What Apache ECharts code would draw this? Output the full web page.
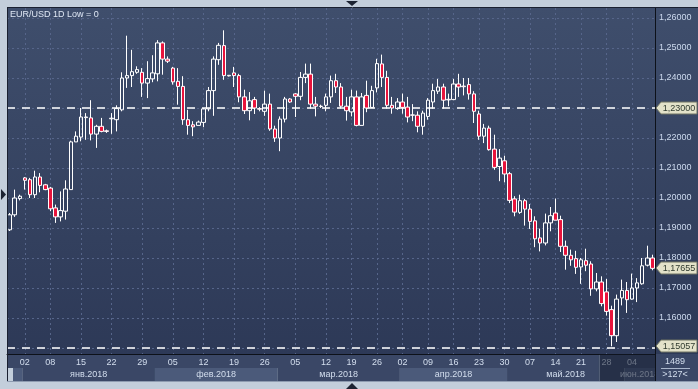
<!DOCTYPE html>
<html><head><meta charset="utf-8">
<script src="https://cdn.jsdelivr.net/npm/echarts@6/dist/echarts.min.js"></script>
<style>html,body{margin:0;padding:0;background:#c3cedb;overflow:hidden}#c{width:698px;height:389px}</style>
</head><body><div id="c"></div>
<script>
const dates = ['2017-12-28','2017-12-29','2017-12-31','2018-01-02','2018-01-03','2018-01-04','2018-01-05','2018-01-07','2018-01-08','2018-01-09','2018-01-10','2018-01-11','2018-01-12','2018-01-14','2018-01-15','2018-01-16','2018-01-17','2018-01-18','2018-01-19','2018-01-21','2018-01-22','2018-01-23','2018-01-24','2018-01-25','2018-01-26','2018-01-28','2018-01-29','2018-01-30','2018-01-31','2018-02-01','2018-02-02','2018-02-04','2018-02-05','2018-02-06','2018-02-07','2018-02-08','2018-02-09','2018-02-11','2018-02-12','2018-02-13','2018-02-14','2018-02-15','2018-02-16','2018-02-18','2018-02-19','2018-02-20','2018-02-21','2018-02-22','2018-02-23','2018-02-25','2018-02-26','2018-02-27','2018-02-28','2018-03-01','2018-03-02','2018-03-04','2018-03-05','2018-03-06','2018-03-07','2018-03-08','2018-03-09','2018-03-11','2018-03-12','2018-03-13','2018-03-14','2018-03-15','2018-03-16','2018-03-19','2018-03-20','2018-03-21','2018-03-22','2018-03-23','2018-03-26','2018-03-27','2018-03-28','2018-03-29','2018-03-30','2018-04-02','2018-04-03','2018-04-04','2018-04-05','2018-04-06','2018-04-09','2018-04-10','2018-04-11','2018-04-12','2018-04-13','2018-04-16','2018-04-17','2018-04-18','2018-04-19','2018-04-20','2018-04-23','2018-04-24','2018-04-25','2018-04-26','2018-04-27','2018-04-30','2018-05-01','2018-05-02','2018-05-03','2018-05-04','2018-05-07','2018-05-08','2018-05-09','2018-05-10','2018-05-11','2018-05-14','2018-05-15','2018-05-16','2018-05-17','2018-05-18','2018-05-21','2018-05-22','2018-05-23','2018-05-24','2018-05-25','2018-05-28','2018-05-29','2018-05-30','2018-05-31','2018-06-01','2018-06-04','2018-06-05','2018-06-06','2018-06-07','2018-06-08'];
const opens = [1.1894,1.1944,1.1998,1.2067,1.2061,1.2011,1.2070,1.2044,1.2033,1.1967,1.1937,1.1956,1.2028,1.2187,1.2203,1.2268,1.2267,1.2213,1.2239,1.2224,1.2264,1.2261,1.2294,1.2400,1.2408,1.2419,1.2419,1.2383,1.2397,1.2414,1.2517,1.2463,1.2433,1.2389,1.2372,1.2261,1.2244,1.2242,1.2252,1.2297,1.2358,1.2461,1.2508,1.2407,1.2417,1.2408,1.2337,1.2291,1.2328,1.2298,1.2289,1.2313,1.2230,1.2200,1.2263,1.2330,1.2347,1.2339,1.2402,1.2413,1.2313,1.2306,1.2309,1.2337,1.2391,1.2370,1.2306,1.2287,1.2337,1.2242,1.2342,1.2302,1.2367,1.2447,1.2402,1.2309,1.2298,1.2320,1.2303,1.2277,1.2276,1.2239,1.2272,1.2320,1.2356,1.2370,1.2329,1.2328,1.2380,1.2373,1.2378,1.2347,1.2280,1.2206,1.2233,1.2163,1.2105,1.2124,1.2081,1.1997,1.1952,1.1991,1.1963,1.1924,1.1867,1.1850,1.1917,1.1950,1.1928,1.1839,1.1809,1.1798,1.1770,1.1791,1.1780,1.1697,1.1720,1.1687,1.1628,1.1541,1.1667,1.1692,1.1663,1.1700,1.1714,1.1776,1.1800];
const closes = [1.1944,1.2000,1.2006,1.2059,1.2011,1.2070,1.2042,1.2028,1.1964,1.1937,1.1958,1.2030,1.2187,1.2206,1.2270,1.2270,1.2213,1.2239,1.2222,1.2222,1.2266,1.2298,1.2400,1.2408,1.2421,1.2428,1.2383,1.2398,1.2417,1.2517,1.2463,1.2456,1.2387,1.2372,1.2261,1.2242,1.2237,1.2253,1.2297,1.2358,1.2463,1.2509,1.2408,1.2409,1.2408,1.2337,1.2291,1.2324,1.2300,1.2296,1.2313,1.2230,1.2200,1.2263,1.2330,1.2320,1.2339,1.2402,1.2413,1.2313,1.2306,1.2305,1.2337,1.2391,1.2370,1.2306,1.2291,1.2337,1.2242,1.2337,1.2300,1.2358,1.2448,1.2402,1.2309,1.2300,1.2320,1.2302,1.2270,1.2276,1.2239,1.2283,1.2326,1.2358,1.2370,1.2326,1.2327,1.2380,1.2370,1.2371,1.2347,1.2289,1.2206,1.2233,1.2161,1.2102,1.2133,1.2080,1.1992,1.1953,1.1991,1.1963,1.1922,1.1864,1.1850,1.1917,1.1941,1.1926,1.1839,1.1809,1.1794,1.1769,1.1794,1.1776,1.1697,1.1720,1.1648,1.1622,1.1541,1.1663,1.1692,1.1661,1.1700,1.1717,1.1774,1.1800,1.17655];
const lows = [1.1890,1.1937,1.1992,1.2028,1.2000,1.2000,1.2019,1.2026,1.1956,1.1917,1.1922,1.1928,1.2028,1.2187,1.2189,1.2194,1.2192,1.2167,1.2219,1.2217,1.2214,1.2222,1.2289,1.2367,1.2370,1.2414,1.2337,1.2333,1.2386,1.2389,1.2411,1.2450,1.2378,1.2311,1.2244,1.2211,1.2206,1.2242,1.2236,1.2289,1.2274,1.2444,1.2394,1.2405,1.2370,1.2319,1.2280,1.2259,1.2280,1.2289,1.2274,1.2224,1.2187,1.2156,1.2252,1.2317,1.2270,1.2326,1.2383,1.2298,1.2272,1.2300,1.2289,1.2317,1.2350,1.2298,1.2258,1.2272,1.2239,1.2242,1.2286,1.2300,1.2352,1.2370,1.2298,1.2281,1.2294,1.2281,1.2252,1.2256,1.2219,1.2211,1.2261,1.2298,1.2347,1.2298,1.2306,1.2326,1.2337,1.2342,1.2328,1.2250,1.2194,1.2183,1.2158,1.2094,1.2056,1.2052,1.1983,1.1939,1.1947,1.1908,1.1897,1.1836,1.1822,1.1842,1.1889,1.1926,1.1820,1.1761,1.1774,1.1747,1.1714,1.1756,1.1674,1.1689,1.1639,1.1608,1.15057,1.1520,1.1642,1.1617,1.1661,1.1653,1.1711,1.1772,1.1759];
const highs = [1.1950,1.2028,1.2011,1.2070,1.2067,1.2091,1.2083,1.2047,1.2037,1.1978,1.2022,1.2059,1.2191,1.2222,1.2300,1.2283,1.2326,1.2244,1.2267,1.2228,1.2283,1.2309,1.2419,1.2541,1.2494,1.2439,1.2433,1.2456,1.2476,1.2526,1.2522,1.2472,1.2437,1.2433,1.2406,1.2294,1.2256,1.2258,1.2300,1.2370,1.2472,1.2517,1.2559,1.2410,1.2437,1.2414,1.2361,1.2353,1.2337,1.2303,1.2358,1.2348,1.2241,1.2272,1.2337,1.2333,1.2350,1.2420,1.2448,1.2448,1.2337,1.2311,1.2348,1.2408,1.2414,1.2383,1.2337,1.2361,1.2358,1.2350,1.2391,1.2374,1.2464,1.2478,1.2424,1.2337,1.2333,1.2348,1.2337,1.2313,1.2289,1.2291,1.2333,1.2381,1.2397,1.2381,1.2348,1.2397,1.2414,1.2400,1.2400,1.2356,1.2291,1.2247,1.2241,1.2211,1.2163,1.2141,1.2087,1.2006,1.2011,1.1997,1.1980,1.1939,1.1898,1.1948,1.1970,1.1998,1.1941,1.1858,1.1828,1.1824,1.1800,1.1831,1.1789,1.1750,1.1739,1.1730,1.1641,1.1678,1.1728,1.1720,1.1748,1.1733,1.1800,1.1841,1.1811];
const weekStarts = ['2018-01-02','2018-01-08','2018-01-15','2018-01-22','2018-01-29','2018-02-05','2018-02-12','2018-02-19','2018-02-26','2018-03-05','2018-03-12','2018-03-19','2018-03-26','2018-04-02','2018-04-09','2018-04-16','2018-04-23','2018-04-30','2018-05-07','2018-05-14','2018-05-21','2018-05-28','2018-06-04'];
const monthStarts = ['2017-12-28','2018-01-02','2018-02-01','2018-03-01','2018-04-02','2018-05-01','2018-06-01'];
const monthNames = ['','янв.2018','фев.2018','мар.2018','апр.2018','май.2018','июн.2018'];
const priceMin = 1.15, priceMax = 1.26, priceStep = 0.01;
const levelLines = [1.23, 1.15057];
const tagValues = [1.23, 1.17655, 1.15057];
const titleText = 'EUR/USD 1D Low = 0';
const barsTotal = '1489', barsVisible = '>127<';
const shadeFrom = '2018-05-25';

const fmt = v => v.toFixed(5).replace('.', ',');
const weekSet = new Set(weekStarts);
const isWeek = i => weekSet.has(dates[i]);
const candleData = dates.map((d, i) => [opens[i], closes[i], lows[i], highs[i]]);

const chart = echarts.init(document.getElementById('c'), null, {renderer: 'canvas'});
const FONT = 'Liberation Sans';
chart.setOption({
  animation: false,
  backgroundColor: '#c3cedb',
  grid: [
    {left: 7, right: 43, top: 8, bottom: 35, show: false},
    {left: 7, right: 43, top: 18, bottom: 41, show: false}
  ],
  xAxis: [
    {type: 'category', gridIndex: 0, data: dates, boundaryGap: true,
     axisLine: {show: true, lineStyle: {color: '#0d1119', width: 1}},
     axisTick: {show: false},
     axisLabel: {interval: (i) => isWeek(i), formatter: v => v.slice(8), color: '#d3deee', fontSize: 9, fontFamily: FONT, margin: 4},
     splitLine: {show: true, interval: (i) => isWeek(i), alignWithLabel: true, lineStyle: {color: '#56658a', type: [2, 3], width: 1}}
    },
    {type: 'category', gridIndex: 1, data: dates, show: false}
  ],
  yAxis: [
    {type: 'value', gridIndex: 0, min: 1.148, max: 1.2633333, show: false, splitLine: {show: false}},
    {type: 'value', gridIndex: 1, position: 'right', min: priceMin, max: priceMax, interval: priceStep,
     axisLine: {show: false}, axisTick: {show: false},
     axisLabel: {formatter: fmt, color: '#cddaee', fontSize: 9, fontFamily: FONT, margin: 4},
     splitLine: {show: true, lineStyle: {color: '#56658a', type: [2, 3], width: 1}}}
  ],
  series: [{
    type: 'candlestick', xAxisIndex: 0, yAxisIndex: 0, data: candleData, barWidth: 4, z: 5,
    itemStyle: {color: 'rgba(0,0,0,0)', color0: '#e8143c', borderColor: '#ffffff', borderColor0: '#ffffff', borderWidth: 1},
    markLine: {silent: true, symbol: 'none', label: {show: false},
      lineStyle: {color: '#ffffff', type: [8, 7], width: 1.5},
      data: levelLines.map(v => ({yAxis: v}))}
  }]
});

const band = 648 / dates.length;
const px = d => chart.convertToPixel({xAxisIndex: 0}, d);
const py = v => chart.convertToPixel({yAxisIndex: 0}, v);
const g = [];
// plot background
g.push({type: 'rect', z: -100, shape: {x: 8, y: 8, width: 690, height: 346},
  style: {fill: new echarts.graphic.LinearGradient(0, 0, 0, 1, [{offset: 0, color: '#3f4e6c'}, {offset: 1, color: '#2d3957'}])}});
// day label row
g.push({type: 'rect', z: -100, shape: {x: 8, y: 354, width: 690, height: 14}, style: {fill: '#3a4766'}});
// month bands
for (let m = 0; m < monthStarts.length; m++) {
  let x0 = px(monthStarts[m]) - band / 2;
  if (m === 0) x0 = 13;
  const x1 = m + 1 < monthStarts.length ? px(monthStarts[m + 1]) - band / 2 : 655;
  g.push({type: 'rect', z: -90, shape: {x: x0, y: 368, width: x1 - x0, height: 13},
    style: {fill: m % 2 === 0 ? '#4b5a7a' : '#3a4766'}});
  if (monthNames[m]) g.push({type: 'text', z: 50, x: (x0 + x1) / 2, y: 374.5,
    style: {text: monthNames[m], fill: '#d3deee', font: '9px ' + FONT, align: 'center', verticalAlign: 'middle'}});
}
// dimmed right part of axis area
const sx = px(shadeFrom) - band / 2;
g.push({type: 'rect', z: 60, shape: {x: sx, y: 354.5, width: 655 - sx, height: 26.5}, style: {fill: 'rgba(22,30,48,0.55)'}});
g.push({type: 'line', z: 61, shape: {x1: sx + 0.5, y1: 355, x2: sx + 0.5, y2: 381}, style: {stroke: '#59657c', lineWidth: 1}});
// bottom-right panel
g.push({type: 'rect', z: 70, shape: {x: 655, y: 354, width: 43, height: 27}, style: {fill: '#3a4766'}});
g.push({type: 'text', z: 71, x: 675, y: 361.5, style: {text: barsTotal, fill: '#d3deee', font: '9px ' + FONT, align: 'center', verticalAlign: 'middle'}});
g.push({type: 'line', z: 71, shape: {x1: 661, y1: 368.5, x2: 690, y2: 368.5}, style: {stroke: '#a9b6cc', lineWidth: 1}});
g.push({type: 'text', z: 71, x: 675, y: 375, style: {text: barsVisible, fill: '#d3deee', font: '9px ' + FONT, align: 'center', verticalAlign: 'middle'}});
// frame lines
g.push({type: 'line', z: 80, shape: {x1: 655.5, y1: 8, x2: 655.5, y2: 381}, style: {stroke: '#0d1119', lineWidth: 1}});
g.push({type: 'line', z: 80, shape: {x1: 7, y1: 7.5, x2: 698, y2: 7.5}, style: {stroke: '#1a2030', lineWidth: 1}});
g.push({type: 'line', z: 80, shape: {x1: 7.5, y1: 7, x2: 7.5, y2: 381}, style: {stroke: '#1a2030', lineWidth: 1}});
g.push({type: 'line', z: 80, shape: {x1: 7, y1: 381.5, x2: 698, y2: 381.5}, style: {stroke: '#8e9bb0', lineWidth: 1}});
// price tags
tagValues.forEach(v => {
  const y = Math.round(py(v));
  g.push({type: 'polygon', z: 90, shape: {points: [[656, y], [661, y - 6], [697, y - 6], [697, y + 6], [661, y + 6]]},
    style: {fill: '#e3e2c9', stroke: '#6f7362', lineWidth: 1}});
  g.push({type: 'text', z: 91, x: 679, y: y + 0.5, style: {text: fmt(v), fill: '#2f3a2e', font: '9px ' + FONT, align: 'center', verticalAlign: 'middle'}});
});
// title
g.push({type: 'text', z: 90, x: 10, y: 14.5, style: {text: titleText, fill: '#dfe7f4', font: '9px ' + FONT, verticalAlign: 'middle'}});
// small navigation triangles
g.push({type: 'polygon', z: 90, shape: {points: [[346, 1], [358, 1], [352, 6]]}, style: {fill: '#1c2332'}});
g.push({type: 'polygon', z: 90, shape: {points: [[346, 389], [358, 389], [352, 383]]}, style: {fill: '#1c2332'}});
g.push({type: 'polygon', z: 90, shape: {points: [[1, 189], [1, 200], [6, 194.5]]}, style: {fill: '#1c2332'}});
chart.setOption({graphic: g});
</script></body></html>
